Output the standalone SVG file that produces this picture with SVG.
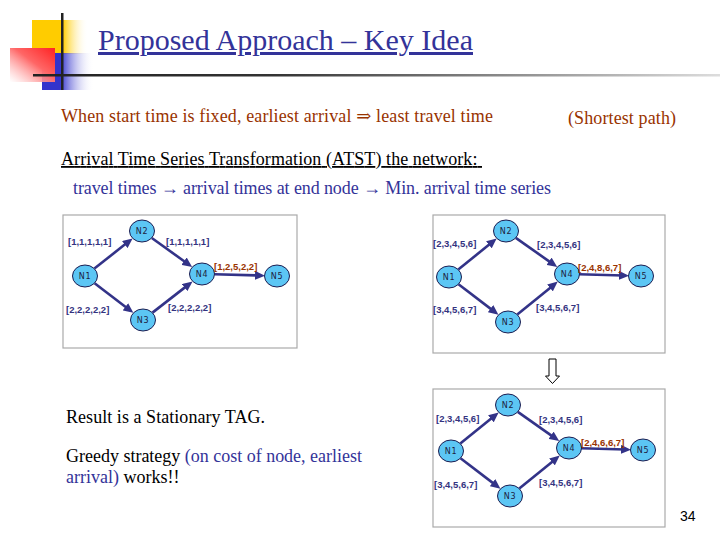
<svg xmlns="http://www.w3.org/2000/svg" width="720" height="540" viewBox="0 0 720 540">
<defs>
<linearGradient id="gY" x1="0" y1="0" x2="1" y2="0"><stop offset="0" stop-color="#FFCC00"/><stop offset="0.55" stop-color="#FFCC00"/><stop offset="1" stop-color="#FFFFFF" stop-opacity="0"/></linearGradient>
<linearGradient id="gB" x1="0" y1="0" x2="1" y2="0"><stop offset="0" stop-color="#3333CC"/><stop offset="0.35" stop-color="#3333CC"/><stop offset="1" stop-color="#FFFFFF" stop-opacity="0"/></linearGradient>
<linearGradient id="gR" x1="1" y1="0" x2="0" y2="1"><stop offset="0" stop-color="#FF2222"/><stop offset="0.45" stop-color="#FF6666"/><stop offset="1" stop-color="#FFFFFF" stop-opacity="0.6"/></linearGradient>
<linearGradient id="gL" x1="0" y1="0" x2="1" y2="0"><stop offset="0" stop-color="#222222"/><stop offset="0.35" stop-color="#333333"/><stop offset="1" stop-color="#DDDDDD"/></linearGradient>
<marker id="ah" markerUnits="userSpaceOnUse" markerWidth="10" markerHeight="9" viewBox="0 0 10 9" refX="4" refY="4.5" orient="auto"><path d="M0,0 L10,4.5 L0,9 z" fill="#333388"/></marker>
<g id="panelR">
<path class="e" d="M458.3,269.5 L492.0,242.3"/>
<path class="e" d="M515.8,237.9 L552.3,263.6"/>
<path class="e" d="M458.5,284.3 L493.7,311.1"/>
<path class="e" d="M517.3,314.4 L553.1,285.4"/>
<path class="e" d="M579,274.3 L623,275.5"/>
</g>
</defs>
<style>
.e{stroke:#333388;stroke-width:2.6;fill:none;marker-end:url(#ah)}
.nd ellipse{fill:#5CC6F4;stroke:#1C1C50;stroke-width:1}
.nd text{font-family:"DejaVu Sans",Verdana,sans-serif;font-size:8px;fill:#1C1C40;text-anchor:middle;letter-spacing:0.8px}
.lb{font-family:"Liberation Sans",Arial,sans-serif;font-weight:bold;font-size:9.5px;fill:#333380}
.lbr{font-family:"Liberation Sans",Arial,sans-serif;font-weight:bold;font-size:9.5px;fill:#993300}
.frame{fill:#FFFFFF;stroke:#AAAAAA;stroke-width:1.2}
</style>
<rect width="720" height="540" fill="#FFFFFF"/>
<!-- decoration -->
<rect x="32" y="20" width="56" height="34" fill="url(#gY)"/>
<rect x="42" y="53" width="52" height="37" fill="url(#gB)"/>
<rect x="10" y="48" width="45" height="34" fill="url(#gR)"/>
<rect x="61" y="13" width="2.5" height="77" fill="#222222"/>
<rect x="33" y="74" width="687" height="2.5" fill="url(#gL)"/>
<g font-family="'Liberation Serif', 'Times New Roman', Times, 'DejaVu Serif', serif">
<text x="98" y="50" font-size="30" fill="#333399" text-decoration="underline" textLength="375" lengthAdjust="spacingAndGlyphs">Proposed Approach – Key Idea</text>
<text x="61" y="122" font-size="18" fill="#993300" textLength="432">When start time is fixed, earliest arrival ⇒  least travel time</text>
<text x="568" y="124" font-size="18" fill="#993300" textLength="108">(Shortest path)</text>
<text x="61" y="165" font-size="18" fill="#000000" text-decoration="underline" xml:space="preserve" textLength="421">Arrival Time Series Transformation (ATST) the network: </text>
<text x="73" y="194" font-size="18" fill="#333399" textLength="478">travel times → arrival times at end node <tspan font-weight="bold">→</tspan> Min. arrival time series</text>
<text x="66" y="423" font-size="18" fill="#000000" textLength="199">Result is a Stationary TAG.</text>
<text x="66" y="462" font-size="18" fill="#000000" textLength="296">Greedy strategy <tspan fill="#333399">(on cost of node, earliest</tspan></text>
<text x="66" y="483" font-size="18" fill="#333399">arrival) <tspan fill="#000000">works!!</tspan></text>
</g>
<!-- frames -->
<rect class="frame" x="63" y="215" width="234" height="133"/>
<rect class="frame" x="433" y="215" width="232" height="138"/>
<rect class="frame" x="433" y="389" width="232" height="138"/>
<!-- connectors -->
<g id="connectors">
<path class="e" d="M94.4,268.6 L127.9,242.1"/>
<path class="e" d="M151.8,238.0 L187.3,263.5"/>
<path class="e" d="M94.6,283.2 L128.6,309.2"/>
<path class="e" d="M152.5,312.6 L187.8,285.1"/>
<path class="e" d="M214.5,274.3 L259,275.5"/>
<use href="#panelR"/>
<use href="#panelR" transform="translate(2,174)"/>
</g>
<!-- left panel nodes -->
<g id="L-N1" class="nd"><ellipse cx="85" cy="276" rx="12.5" ry="11"/><text x="85" y="279">N1</text></g>
<g id="L-N2" class="nd"><ellipse cx="142" cy="231" rx="12.5" ry="11"/><text x="142" y="234">N2</text></g>
<g id="L-N3" class="nd"><ellipse cx="143" cy="320" rx="12.5" ry="11"/><text x="143" y="323">N3</text></g>
<g id="L-N4" class="nd"><ellipse cx="202" cy="274" rx="12.5" ry="11"/><text x="202" y="277">N4</text></g>
<g id="L-N5" class="nd"><ellipse cx="277" cy="276" rx="12.5" ry="11"/><text x="277" y="279">N5</text></g>
<g id="L-labels">
<text class="lb" x="68" y="245">[1,1,1,1,1]</text>
<text class="lb" x="166" y="245">[1,1,1,1,1]</text>
<text class="lbr" x="214" y="270">[1,2,5,2,2]</text>
<text class="lb" x="66" y="313">[2,2,2,2,2]</text>
<text class="lb" x="168" y="311">[2,2,2,2,2]</text>
</g>
<!-- top right panel -->
<g id="T-N1" class="nd"><ellipse cx="449" cy="277" rx="12.5" ry="11"/><text x="449" y="280">N1</text></g>
<g id="T-N2" class="nd"><ellipse cx="506" cy="231" rx="12.5" ry="11"/><text x="506" y="234">N2</text></g>
<g id="T-N3" class="nd"><ellipse cx="508" cy="322" rx="12.5" ry="11"/><text x="508" y="325">N3</text></g>
<g id="T-N4" class="nd"><ellipse cx="567" cy="274" rx="12.5" ry="11"/><text x="567" y="277">N4</text></g>
<g id="T-N5" class="nd"><ellipse cx="641" cy="276" rx="12.5" ry="11"/><text x="641" y="279">N5</text></g>
<g id="T-labels">
<text class="lb" x="433" y="247">[2,3,4,5,6]</text>
<text class="lb" x="537" y="248">[2,3,4,5,6]</text>
<text class="lbr" x="578" y="271">[2,4,8,6,7]</text>
<text class="lb" x="433" y="313">[3,4,5,6,7]</text>
<text class="lb" x="536" y="311">[3,4,5,6,7]</text>
</g>
<!-- transition arrow -->
<path d="M549,359 H556 V376 H559.5 L552.5,383.5 L545.5,376 H549 Z" fill="#FFFFFF" stroke="#000000" stroke-width="1"/>
<!-- bottom right panel -->
<g id="B-N1" class="nd"><ellipse cx="451" cy="451" rx="12.5" ry="11"/><text x="451" y="454">N1</text></g>
<g id="B-N2" class="nd"><ellipse cx="508" cy="405" rx="12.5" ry="11"/><text x="508" y="408">N2</text></g>
<g id="B-N3" class="nd"><ellipse cx="510" cy="496" rx="12.5" ry="11"/><text x="510" y="499">N3</text></g>
<g id="B-N4" class="nd"><ellipse cx="569" cy="448" rx="12.5" ry="11"/><text x="569" y="451">N4</text></g>
<g id="B-N5" class="nd"><ellipse cx="643" cy="450" rx="12.5" ry="11"/><text x="643" y="453">N5</text></g>
<g id="B-labels">
<text class="lb" x="436" y="422">[2,3,4,5,6]</text>
<text class="lb" x="539" y="423">[2,3,4,5,6]</text>
<text class="lbr" x="581" y="446">[2,4,6,6,7]</text>
<text class="lb" x="434" y="488">[3,4,5,6,7]</text>
<text class="lb" x="539" y="486">[3,4,5,6,7]</text>
</g>
<text x="680" y="521" font-family="Liberation Sans, Arial, sans-serif" font-size="14" fill="#000000">34</text>
</svg>
